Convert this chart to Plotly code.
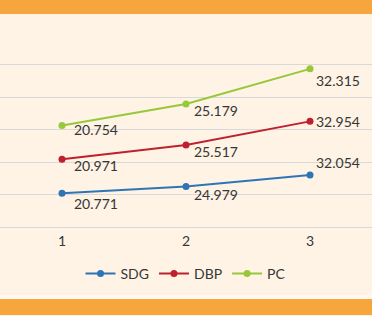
import plotly.graph_objects as go

categories = [1, 2, 3]
sdg = [20.771, 24.979, 32.054]
dbp = [20.971, 25.517, 32.954]
pc = [20.754, 25.179, 32.315]
series_names = ["SDG", "DBP", "PC"]
colors = ["#2E75B6", "#C0202E", "#97C83A"]

FONT = "Lato"
TXT = "#363636"
W, H = 372, 316

fig = go.Figure()
series = [sdg, dbp, pc]
for name, vals, col in zip(series_names, series, colors):
    fig.add_trace(go.Scatter(
        x=categories, y=vals, name=name, mode="lines+markers",
        stackgroup="one", fill="none",
        line=dict(color=col, width=2), marker=dict(color=col, size=7),
    ))

# label offsets (px) per series/point
offsets = {
    "SDG": [(10, -10), (6, -8), (4, 12)],
    "DBP": [(10, -6), (6, -7), (4, 0)],
    "PC": [(10, -4), (6, -6), (4, -12)],
}
cum = [0, 0, 0]
for name, vals in zip(series_names, series):
    cum = [c + v for c, v in zip(cum, vals)]
    for i, (xv, yv, v) in enumerate(zip(categories, cum, vals)):
        dx, dy = offsets[name][i]
        fig.add_annotation(x=xv, y=yv, text=f"{v:.3f}", showarrow=False,
                           xanchor="left", yanchor="middle", xshift=dx, yshift=dy,
                           font=dict(family=FONT, size=14, color=TXT))

def py(p):
    return (H - p) / H

fig.add_shape(type="rect", xref="paper", yref="paper", x0=0, x1=1, y0=py(14), y1=1,
              fillcolor="#F7A63D", line_width=0, layer="below")
fig.add_shape(type="rect", xref="paper", yref="paper", x0=0, x1=1, y0=py(299), y1=py(295),
              fillcolor="#FFF8EE", line_width=0, layer="below")
fig.add_shape(type="rect", xref="paper", yref="paper", x0=0, x1=1, y0=py(315), y1=py(299),
              fillcolor="#F7A63D", line_width=0, layer="below")

fig.update_layout(
    width=W, height=H, margin=dict(l=0, r=0, t=0, b=0),
    paper_bgcolor="#FEF3E4", plot_bgcolor="rgba(0,0,0,0)",
    font=dict(family=FONT, size=14, color=TXT),
    showlegend=True,
    legend=dict(orientation="h", x=0.5, xanchor="center", y=py(274), yanchor="middle",
                font=dict(family=FONT, size=14, color=TXT), bgcolor="rgba(0,0,0,0)"),
    xaxis=dict(range=[0.5, 3.5], tickvals=categories, ticktext=[str(c) for c in categories],
               showgrid=False, zeroline=False, showline=False, ticks="",
               ticklabelstandoff=4,
               tickfont=dict(family=FONT, size=14, color=TXT), fixedrange=True),
    yaxis=dict(range=[0, 120], dtick=20, domain=[py(227), py(32)], showticklabels=False,
               showgrid=True, gridcolor="#D9D9D9", gridwidth=1, zeroline=True,
               zerolinecolor="#D9D9D9", zerolinewidth=1, ticks=""),
)

fig.write_html("out.html", config={"displayModeBar": False},
               post_script="document.body.style.margin='0';document.body.style.overflow='hidden';")
